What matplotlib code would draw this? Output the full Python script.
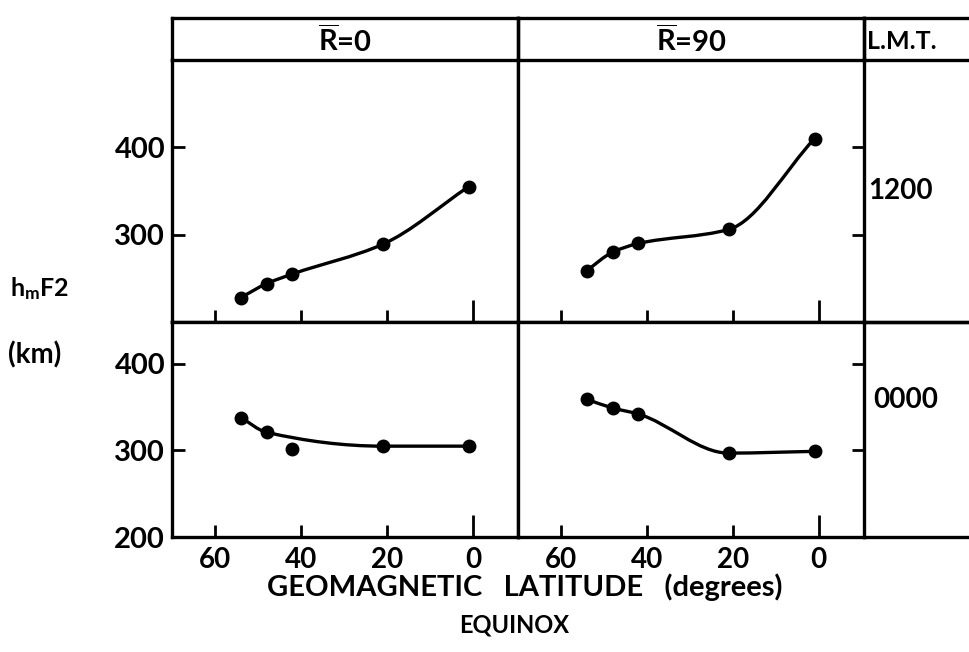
import numpy as np
import matplotlib.pyplot as plt
from matplotlib.path import Path
from matplotlib.patches import PathPatch

plt.rcParams['font.family'] = ['Lato', 'DejaVu Sans']
plt.rcParams['font.weight'] = 'bold'
plt.rcParams['mathtext.fontset'] = 'custom'
plt.rcParams['mathtext.rm'] = 'Lato:bold'
plt.rcParams['mathtext.it'] = 'Lato:bold'

# station geomagnetic latitudes (deg)
lat = [54, 48, 42, 21, 1]
# hmF2 (km), equinox
r0_noon = [228, 244, 255, 289, 355]
r90_noon = [259, 280, 290, 306, 410]
r0_midnight = [338, 321, 302, 305, 305]
r90_midnight = [359, 349, 342, 297, 299]
# which points the hand drawn curve goes through
on_curve_r0_midnight = [True, True, False, True, True]
on_curve_all = [True] * 5

lat_ticks = [60, 40, 20]
equator_tick = [0]
km_ticks = [400, 300]
col_titles = [r'$\overline{\mathrm{R}}$=0', r'$\overline{\mathrm{R}}$=90']
row_titles = ['1200', '0000']

lw = 2.4
x0, xm, x1 = 0.1775, 0.5346, 0.8916
y_head_top, y_head_bot = 0.972, 0.908
y_mid, y_bot = 0.506, 0.176


def smooth_curve(ax, x, y):
    # monotone cubic (Fritsch-Carlson) through the points, drawn as bezier segments
    x = np.asarray(x, float)
    y = np.asarray(y, float)
    h = np.diff(x)
    d = np.diff(y) / h
    m = np.zeros_like(y)
    m[0], m[-1] = d[0], d[-1]
    for i in range(1, len(x) - 1):
        if d[i - 1] * d[i] > 0:
            w1 = 2 * h[i] + h[i - 1]
            w2 = h[i] + 2 * h[i - 1]
            m[i] = (w1 + w2) / (w1 / d[i - 1] + w2 / d[i])
    verts = [(x[0], y[0])]
    codes = [Path.MOVETO]
    for i in range(len(x) - 1):
        verts += [(x[i] + h[i] / 3, y[i] + m[i] * h[i] / 3),
                  (x[i + 1] - h[i] / 3, y[i + 1] - m[i + 1] * h[i] / 3),
                  (x[i + 1], y[i + 1])]
        codes += [Path.CURVE4] * 3
    ax.add_patch(PathPatch(Path(verts, codes), fill=False, lw=lw, ec='black',
                           capstyle='round', joinstyle='round'))


fig = plt.figure(figsize=(9.69, 6.52), dpi=100)

panels = [
    (x0, y_mid, xm - x0, y_head_bot - y_mid, r0_noon, on_curve_all, 'left', False, (200, 500)),
    (xm, y_mid, x1 - xm, y_head_bot - y_mid, r90_noon, on_curve_all, 'right', False, (200, 500)),
    (x0, y_bot, xm - x0, y_mid - y_bot, r0_midnight, on_curve_r0_midnight, 'left', True, (200, 448)),
    (xm, y_bot, x1 - xm, y_mid - y_bot, r90_midnight, on_curve_all, 'right', True, (200, 448)),
]

for (l, b, w, h, vals, mask, side, bottom, ylim) in panels:
    ax = fig.add_axes([l, b, w, h])
    ax.set_xlim(70, -10.5)
    ax.set_ylim(*ylim)
    for s in ax.spines.values():
        s.set_linewidth(lw)
    xs = [la for la, m in zip(lat, mask) if m]
    ys = [v for v, m in zip(vals, mask) if m]
    smooth_curve(ax, xs, ys)
    ax.plot(lat, vals, 'o', color='black', ms=9, zorder=3)

    # the equator tick is drawn longer, as a minor tick
    ax.set_xticks(lat_ticks)
    ax.set_xticks(equator_tick, labels=['0'], minor=True)
    ax.tick_params(axis='x', which='both', direction='in', width=2, pad=7,
                   labelsize=20, labelbottom=bottom)
    ax.tick_params(axis='x', which='major', length=9)
    ax.tick_params(axis='x', which='minor', length=16)
    ax.set_yticks(km_ticks)
    if side == 'left':
        ax.tick_params(axis='y', direction='in', length=9, width=2, pad=5,
                       labelsize=21, left=True, right=False)
        if bottom:
            ax.set_yticks([200, 300, 400])
            ax.get_yticklines()[0].set_visible(False)
    else:
        ax.tick_params(axis='y', direction='in', length=9, width=2,
                       left=False, right=True, labelleft=False)

# header boxes
for (l, w, txt, ha, xt) in [(x0, xm - x0, col_titles[0], 'center', 0.5),
                            (xm, x1 - xm, col_titles[1], 'center', 0.5),
                            (x1, 0.2, 'L.M.T.', 'left', 0.015)]:
    hx = fig.add_axes([l, y_head_bot, w, y_head_top - y_head_bot])
    hx.patch.set_visible(False)
    hx.set_xticks([])
    hx.set_yticks([])
    for s in hx.spines.values():
        s.set_linewidth(lw)
    hx.spines['bottom'].set_visible(False)
    if txt == 'L.M.T.':
        hx.spines['right'].set_visible(False)
    hx.text(xt, 0.45, txt, transform=hx.transAxes, ha=ha, va='center',
            fontsize=18 if txt == 'L.M.T.' else 21)

# L.M.T. column
for (b, h, txt, yt) in [(y_mid, y_head_bot - y_mid, row_titles[0], 0.5),
                        (y_bot, y_mid - y_bot, row_titles[1], 0.64)]:
    rx = fig.add_axes([x1, b, 0.2, h])
    rx.patch.set_visible(False)
    rx.set_xticks([])
    rx.set_yticks([])
    for s in rx.spines.values():
        s.set_linewidth(lw)
    rx.spines['left'].set_visible(False)
    rx.spines['right'].set_visible(False)
    rx.text(0.02 if txt == '1200' else 0.05, yt, txt, transform=rx.transAxes,
            ha='left', va='center', fontsize=20)

fig.text(0.01, 0.558, 'h$_\\mathrm{m}$F2', fontsize=18, ha='left', va='center')
fig.text(0.008, 0.455, '(km)', fontsize=20, ha='left', va='center')
fig.text(0.542, 0.1, 'GEOMAGNETIC   LATITUDE   (degrees)', fontsize=21,
         ha='center', va='center')
fig.text(0.531, 0.041, 'EQUINOX', fontsize=17, ha='center', va='center')

fig.savefig('out.png', dpi=100)
